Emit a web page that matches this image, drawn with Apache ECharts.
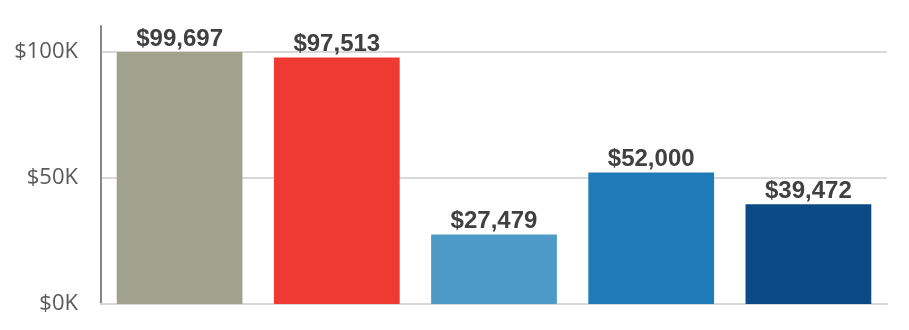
<!DOCTYPE html>
<html>
<head>
<meta charset="utf-8">
<script src="https://cdn.jsdelivr.net/npm/echarts@6/dist/echarts.min.js"></script>
<style>html,body{margin:0;padding:0;background:#fff}#c{width:909px;height:330px}</style>
</head>
<body>
<div id="c"></div>
<script>
const categories = ['A', 'B', 'C', 'D', 'E'];
const values = [99697, 97513, 27479, 52000, 39472];
const colors = ['#a0a28e', '#ef3a33', '#4e9ac7', '#1f7bb6', '#0b4a85'];
const yTicks = [0, 50000, 100000];

const chart = echarts.init(document.getElementById('c'), null, {renderer: 'canvas'});
chart.setOption({
  animation: false,
  grid: {left: 101, right: 22, top: 26, bottom: 26},
  xAxis: {
    type: 'category',
    data: categories,
    axisLine: {show: true, lineStyle: {color: '#d9d9d9', width: 2}},
    axisTick: {show: false},
    axisLabel: {show: false}
  },
  yAxis: {
    type: 'value',
    min: 0,
    max: 110000,
    interval: 50000,
    axisLine: {show: true, lineStyle: {color: '#878787', width: 2}},
    axisTick: {show: false},
    splitLine: {show: true, showMaxLine: false, lineStyle: {color: '#d9d9d9', width: 2}},
    axisLabel: {
      showMaxLabel: false,
      margin: 23,
      color: '#595959',
      fontFamily: 'Open Sans',
      fontSize: 22,
      formatter: v => yTicks.includes(v) ? '$' + (v / 1000) + 'K' : ''
    }
  },
  series: [{
    type: 'bar',
    barCategoryGap: '20%',
    data: values.map((v, i) => ({value: v, itemStyle: {color: colors[i]}})),
    label: {
      show: true,
      position: 'top',
      distance: 1,
      color: '#404040',
      fontFamily: 'Liberation Sans',
      fontWeight: 'bold',
      fontSize: 24,
      formatter: p => '$' + p.value.toLocaleString('en-US')
    }
  }]
});
</script>
</body>
</html>
